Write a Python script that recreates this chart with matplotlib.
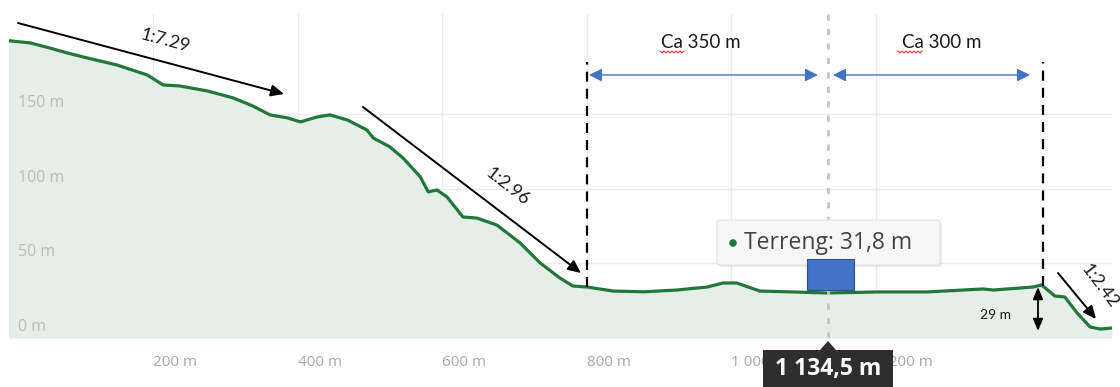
import numpy as np
import matplotlib
matplotlib.use('Agg')
import matplotlib.pyplot as plt
from matplotlib.patches import FancyBboxPatch, Rectangle, Polygon, Circle
from matplotlib.lines import Line2D
from matplotlib.transforms import ScaledTranslation, IdentityTransform, blended_transform_factory

# ---------------- data ----------------
distance_m = [0, 30, 57, 81, 109, 150, 192, 214, 237, 275, 311, 338, 362, 386, 404,
              427, 445, 469, 496, 505, 528, 546, 570, 581, 593, 607, 629, 648, 676, 708,
              736, 763, 781, 801, 837, 880, 925, 967, 989, 1008, 1040, 1086, 1133, 1202, 1271,
              1349, 1363, 1418, 1430, 1448, 1462, 1479, 1497, 1511, 1527]
elevation_m = [199.5, 198.0, 194.6, 191.3, 187.9, 183.2, 176.5, 169.8, 169.1, 165.8,
               161.1, 155.7, 149.7, 147.7, 145.0, 148.3, 149.7, 146.3, 139.6, 134.2,
               128.2, 120.8, 108.1, 98.0, 99.3, 94.6, 81.2, 80.5, 75.8, 63.8,
               50.3, 40.3, 34.9, 34.2, 31.5, 31.0, 32.2, 34.2, 36.9, 36.9,
               31.5, 30.9, 30.2, 30.9, 30.9, 32.9, 32.2, 34.2, 35.6, 28.2,
               27.5, 16.8, 7.4, 6.0, 6.7]
x_ticks = [200, 400, 600, 800, 1000, 1200]
x_tick_labels = ['200 m', '400 m', '600 m', '800 m', '1 000 m', '1 200 m']
y_ticks = [0, 50, 100, 150]
y_tick_labels = ['0 m', '50 m', '100 m', '150 m']
cursor_distance = 1134.5
cursor_elevation = 31.8
section_start = 800
section_end = 1432
slope_labels = ['1:7.29', '1:2.96', '1:2.42']
span_labels = ['Ca 350 m', 'Ca 300 m']
drop_label = '29 m'

# ---------------- figure ----------------
W, H = 1120, 387
fig = plt.figure(figsize=(W / 100, H / 100), dpi=100)
ax = fig.add_axes([8.5 / W, 1 - 338 / H, (1112 - 8.5) / W, (338 - 14) / H])
ax.set_xlim(0, 1527.3)
ax.set_ylim(0, 217.4)
for s in ax.spines.values():
    s.set_visible(False)

LINE_GREEN = '#22773b'
FILL_GREEN = '#e5efe7'
ax.fill_between(distance_m, elevation_m, 0, color=FILL_GREEN, lw=0, zorder=1)
ax.plot(distance_m, elevation_m, color=LINE_GREEN, lw=2.3, zorder=3,
        solid_joinstyle='round')

ax.set_axisbelow(True)
ax.grid(True, color='#ebebeb', lw=1.0)

tick_font = 'Open Sans'
ax.set_xticks(x_ticks, x_tick_labels)
ax.set_yticks(y_ticks, [''] * len(y_ticks))
ax.tick_params(axis='x', length=0, pad=17.3, labelcolor='#a8a8a8', labelsize=11)
ax.tick_params(axis='y', length=0)
for lab in ax.get_xticklabels():
    lab.set_ha('left')
    lab.set_va('center')
    lab.set_family(tick_font)

# y labels drawn inside the plot, above their gridlines
ytrans = blended_transform_factory(ax.transAxes, ax.transData) + \
    ScaledTranslation(0.095, 0.11, fig.dpi_scale_trans)
for yv, lab in zip(y_ticks, y_tick_labels):
    ax.text(0, yv, lab, transform=ytrans, ha='left', va='center', fontsize=11.5,
            family=tick_font, color='#bdbdbd', zorder=4)

# crosshair
ax.axvline(cursor_distance, color='#c4c4c4', lw=2.0, ls=(0, (2.2, 3.0)), zorder=4)

# black dashed section limits
for xs in (section_start, section_end):
    ytop = (338 - 62) / 1.49
    ax.vlines(xs, np.interp(xs, distance_m, elevation_m), ytop, color='black',
              lw=1.6, linestyles=[(0, (4.5, 3.2))], zorder=5)


def fp(x, y):
    return (x, H - y)


ann_font = 'Lato'
arrow_kw = dict(arrowstyle='-|>,head_length=0.55,head_width=0.25',
                color='black', lw=1.4, mutation_scale=14, shrinkA=0, shrinkB=0)
for (x0, y0), (x1, y1) in (((18, 23), (284, 94)), ((363, 107), (581, 273)),
                           ((1058, 273), (1096, 319))):
    ax.annotate('', xy=fp(x1, y1), xytext=fp(x0, y0), xycoords='figure pixels',
                textcoords='figure pixels', arrowprops=arrow_kw)
fig.text(165 / W, 1 - 41 / H, slope_labels[0], rotation=-15, ha='center', va='center',
         fontsize=13, family=ann_font, color='#1a1a1a', rotation_mode='anchor')
fig.text(507 / W, 1 - 187 / H, slope_labels[1], rotation=-38, ha='center', va='center',
         fontsize=13, family=ann_font, color='#1a1a1a', rotation_mode='anchor')
fig.text(1100 / W, 1 - 286 / H, slope_labels[2], rotation=-53, ha='center', va='center',
         fontsize=13, family=ann_font, color='#1a1a1a', rotation_mode='anchor')

# span arrows
BLUE = '#4472c4'
for x0, x1 in ((589, 818), (833, 1030)):
    ax.annotate('', xy=fp(x1, 75), xytext=fp(x0, 75), xycoords='figure pixels',
                textcoords='figure pixels',
                arrowprops=dict(arrowstyle='<|-|>,head_length=0.6,head_width=0.3',
                                color=BLUE, lw=1.0, mutation_scale=13, shrinkA=0, shrinkB=0))
fig.text(701 / W, 1 - 42 / H, span_labels[0], ha='center', va='center', fontsize=13.5,
         family=ann_font, color='#1a1a1a')
fig.text(942 / W, 1 - 42 / H, span_labels[1], ha='center', va='center', fontsize=13.5,
         family=ann_font, color='#1a1a1a')
for x0, x1 in ((660, 684), (898, 923)):
    xs = np.arange(x0, x1 + 1, 2.0)
    ys = np.where(np.arange(len(xs)) % 2 == 0, H - 51, H - 53)
    fig.add_artist(Line2D(xs, ys, transform=IdentityTransform(), color='#e03030', lw=0.8))

# 29 m drop arrow
ax.annotate('', xy=fp(1038, 287), xytext=fp(1038, 331), xycoords='figure pixels',
            textcoords='figure pixels',
            arrowprops=dict(arrowstyle='<|-|>,head_length=0.6,head_width=0.25',
                            color='black', lw=1.3, mutation_scale=12, shrinkA=0, shrinkB=0))
fig.text(995 / W, 1 - 315 / H, drop_label, ha='center', va='center', fontsize=10,
         family=ann_font, color='#1a1a1a')

# hover tooltip (light)
tip_text = 'Terreng: ' + f'{cursor_elevation:.1f}'.replace('.', ',') + ' m'
fig.add_artist(FancyBboxPatch((719, H - 267), 223, 45, boxstyle='round,pad=0,rounding_size=3',
                              transform=IdentityTransform(), fc='black', ec='none',
                              alpha=0.07, zorder=5))
fig.add_artist(FancyBboxPatch((717, H - 265), 223, 45, boxstyle='round,pad=0,rounding_size=3',
                              transform=IdentityTransform(), fc='#f7f7f7', ec='#e2e2e2',
                              lw=0.8, zorder=6))
fig.add_artist(Circle((733, H - 243), 3.8, transform=IdentityTransform(), fc=LINE_GREEN,
                      ec='none', zorder=7))
fig.text(744 / W, 1 - 243 / H, tip_text, ha='left', va='center', fontsize=16.5,
         family='Open Sans', color='#444444', zorder=8)

# blue block
fig.add_artist(Rectangle((807, H - 290), 47, 31, transform=IdentityTransform(),
                         fc=BLUE, ec='#2f528f', lw=0.8, zorder=9))

# distance tooltip (dark)
dist_text = f'{cursor_distance:,.1f}'.replace(',', ' ').replace('.', ',') + ' m'
fig.add_artist(Polygon([(763, H - 350), (820, H - 350), (828, H - 341), (836, H - 350),
                        (893, H - 350), (893, -2), (763, -2)], closed=True,
                       transform=IdentityTransform(), fc='#2e2e2e', ec='none', zorder=9))
fig.text(828 / W, 1 - 369 / H, dist_text, ha='center', va='center', fontsize=16.5,
         family='Open Sans', weight='bold', color='white', zorder=10)

fig.savefig('out.png', dpi=100)
